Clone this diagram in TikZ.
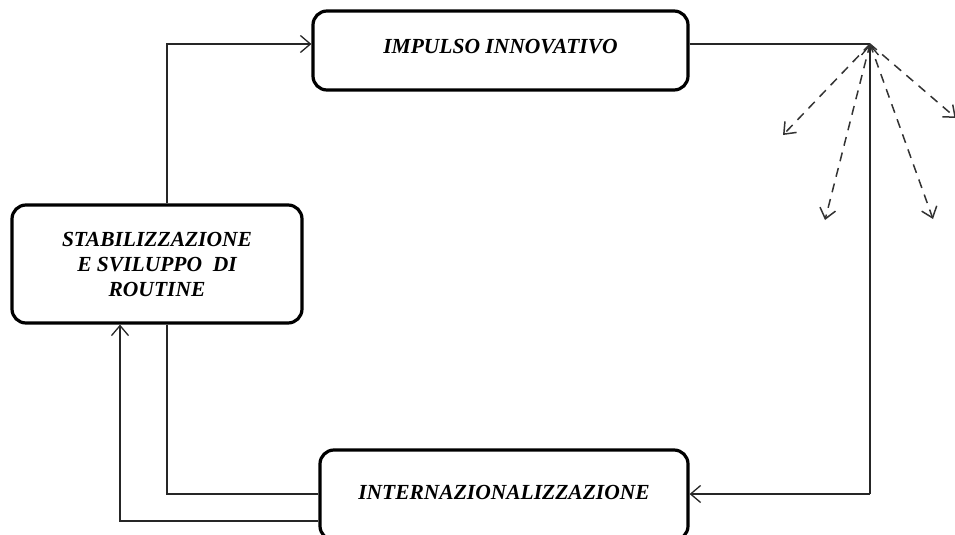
\documentclass[tikz,border=0pt]{standalone}
\usepackage{fontspec}
\setmainfont{Liberation Serif}
\usetikzlibrary{arrows.meta}
\tikzset{
  box/.style={draw, line width=3.2pt, rounded corners=14pt, align=center,
    font=\fontsize{21.5}{25}\selectfont\bfseries\itshape, inner sep=0pt},
  conn/.style={line width=1.3pt, draw=black!85},
  tip/.style={-{Straight Barb[length=10pt,width=17pt,line width=1.3pt]}},
  dashconn/.style={line width=1.5pt, draw=black!80, dash pattern=on 9pt off 7pt,
    -{Straight Barb[length=10pt,width=16pt,line width=1.5pt]}},
}
\begin{document}
\begin{tikzpicture}[x=1pt,y=-1pt]
\useasboundingbox (0,0) rectangle (955,535);
\node[box, minimum width=375pt, minimum height=79pt] (imp) at (500.5,50.5) {\raisebox{9pt}{IMPULSO INNOVATIVO}};
\node[box, minimum width=290pt, minimum height=118pt] (stab) at (157,264) {STABILIZZAZIONE\\E SVILUPPO\ \ DI\\ROUTINE};
\node[box, minimum width=368pt, minimum height=90pt] (int) at (504,495) {\raisebox{6pt}{INTERNAZIONALIZZAZIONE}};
\coordinate (hub) at (870,44);
\coordinate (corner) at (870,494);
\coordinate (xa) at (167,0);
\coordinate (xb) at (120,0);
\coordinate (ya) at (0,494);
\coordinate (yb) at (0,521);
\coordinate (d1) at (783,135);
\coordinate (d2) at (825,220);
\coordinate (d3) at (933,219);
\coordinate (d4) at (956,118);
% top-left connector
\draw[conn, tip] (stab.north -| xa) |- ([yshift=6.5pt]imp.west);
% right side
\draw[conn] ([yshift=6.5pt]imp.east) -- (hub);
\draw[conn, tip] (corner) -- (hub);
\draw[conn, tip] (corner) -- (int.east |- corner);
% dashed arrows
\draw[dashconn] (hub) -- (d1);
\draw[dashconn] (hub) -- (d2);
\draw[dashconn] (hub) -- (d3);
\draw[dashconn] (hub) -- (d4);
% bottom-left connectors
\draw[conn] (stab.south -| xa) |- (int.west |- ya);
\draw[conn, tip] (int.west |- yb) -| (stab.south -| xb);
\end{tikzpicture}
\end{document}
